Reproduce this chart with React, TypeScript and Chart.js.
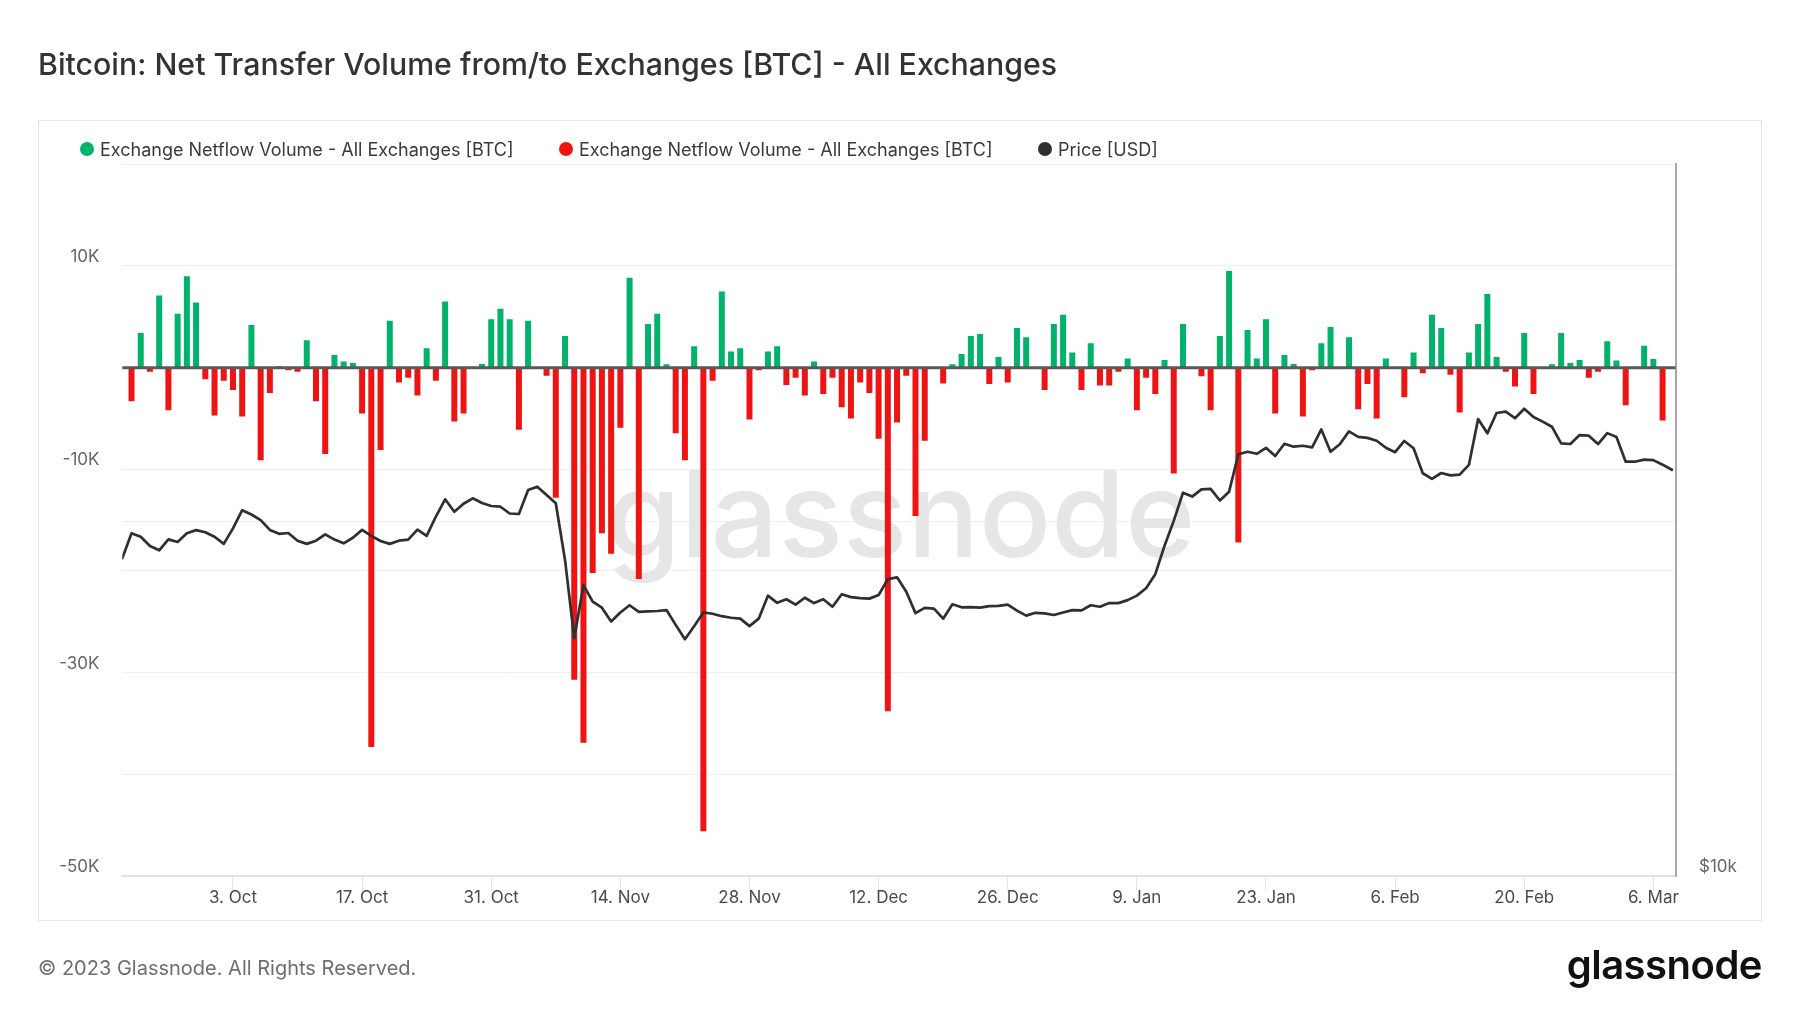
import React, { useEffect, useRef } from 'react';
import { Chart, registerables } from 'chart.js';

Chart.register(...registerables);

// one value per day, day 0 = 21 Sep 2022, day 168 = 8 Mar 2023
// exchange netflow in thousand BTC
const netflowK: (number | null)[] = [
  null, -3.3, 3.4, -0.4, 7.1, -4.2, 5.3, 9.0, 6.4, -1.15,
  -4.7, -1.3, -2.2, -4.8, 4.2, -9.1, -2.5, 0.15, -0.25, -0.4,
  2.7, -3.3, -8.5, 1.25, 0.6, 0.45, -4.5, -37.3, -8.1, 4.6,
  -1.45, -1.0, -2.75, 1.9, -1.3, 6.5, -5.3, -4.5, 0.1, 0.35,
  4.75, 5.8, 4.75, -6.1, 4.6, 0, -0.8, -12.8, 3.1, -30.7,
  -36.9, -20.2, -16.3, -18.3, -5.9, 8.85, -20.8, 4.3, 5.3, 0.33,
  -6.45, -9.1, 2.1, -45.6, -1.3, 7.5, 1.6, 1.9, -5.1, -0.25,
  1.6, 2.1, -1.7, -1.0, -2.75, 0.6, -2.6, -1.0, -3.9, -5.0,
  -1.45, -2.5, -7.0, -33.8, -5.4, -0.8, -14.6, -7.2, 0, -1.55,
  0.33, 1.35, 3.1, 3.3, -1.6, 1.05, -1.45, 3.9, 3.0, 0,
  -2.2, 4.3, 5.2, 1.5, -2.2, 2.4, -1.75, -1.75, -0.4, 0.9,
  -4.2, -1.0, -2.6, 0.75, -10.4, 4.3, 0.1, -0.85, -4.2, 3.1,
  9.5, -17.2, 3.7, 0.9, 4.75, -4.5, 1.25, 0.35, -4.8, -0.25,
  2.4, 4.0, 0, 3.0, -4.1, -1.6, -5.0, 0.9, 0, -2.9,
  1.5, -0.55, 5.2, 3.9, -0.7, -4.4, 1.5, 4.3, 7.25, 1.05,
  -0.4, -1.85, 3.4, -2.6, 0, 0.33, 3.4, 0.45, 0.75, -1.0,
  -0.4, 2.6, 0.7, -3.7, 0.1, 2.15, 0.85, -5.2, null,
];

// BTC price in thousand USD
const priceK: number[] = [
  18.6, 19.53, 19.4, 19.05, 18.89, 19.3, 19.2, 19.53, 19.65, 19.57,
  19.4, 19.13, 19.72, 20.43, 20.26, 20.04, 19.66, 19.51, 19.54, 19.25,
  19.13, 19.25, 19.49, 19.29, 19.15, 19.36, 19.66, 19.43, 19.24, 19.13,
  19.25, 19.29, 19.67, 19.43, 20.18, 20.87, 20.37, 20.69, 20.91, 20.72,
  20.6, 20.57, 20.3, 20.28, 21.25, 21.39, 21.05, 20.71, 18.54, 15.91,
  17.65, 17.09, 16.89, 16.44, 16.73, 16.97, 16.75, 16.77, 16.78, 16.81,
  16.33, 15.88, 16.29, 16.73, 16.69, 16.61, 16.56, 16.53, 16.29, 16.53,
  17.29, 17.05, 17.17, 16.99, 17.22, 17.04, 17.17, 16.92, 17.34, 17.24,
  17.21, 17.19, 17.31, 17.86, 17.92, 17.42, 16.71, 16.88, 16.86, 16.53,
  17.0, 16.9, 16.91, 16.89, 16.94, 16.95, 16.99, 16.79, 16.63, 16.72,
  16.7, 16.65, 16.73, 16.81, 16.8, 16.97, 16.92, 17.04, 17.04, 17.14,
  17.29, 17.54, 18.03, 19.06, 20.01, 21.14, 20.98, 21.28, 21.3, 20.82,
  21.18, 22.79, 22.9, 22.81, 23.08, 22.71, 23.26, 23.13, 23.17, 23.1,
  23.92, 22.9, 23.24, 23.83, 23.58, 23.53, 23.4, 23.08, 22.88, 23.39,
  23.06, 21.96, 21.72, 21.97, 21.87, 21.9, 22.32, 24.41, 23.74, 24.7,
  24.77, 24.45, 24.91, 24.51, 24.29, 24.05, 23.28, 23.25, 23.66, 23.63,
  23.25, 23.75, 23.57, 22.46, 22.46, 22.55, 22.53, 22.33, 22.11,
];

const tickDays = [12, 26, 40, 54, 68, 82, 96, 110, 124, 138, 152, 166];
const tickLabels = ['3. Oct', '17. Oct', '31. Oct', '14. Nov', '28. Nov', '12. Dec', '26. Dec', '9. Jan', '23. Jan', '6. Feb', '20. Feb', '6. Mar'];

const flowTicks = [10000, -10000, -30000, -50000];
const flowTickLabels = ['10K', '-10K', '-30K', '-50K'];
const priceTicks = [10000, 20000];
const priceTickLabels = ['$10k', ''];

const GREEN = '#00b26a';
const RED = '#ee1414';
const PRICE = '#2f2f2f';
const FONT = 'Inter, "Noto Sans", sans-serif';

const legendItems = [
  { label: 'Exchange Netflow Volume - All Exchanges [BTC]', color: GREEN, left: 80 },
  { label: 'Exchange Netflow Volume - All Exchanges [BTC]', color: RED, left: 559 },
  { label: 'Price [USD]', color: PRICE, left: 1038 },
];

// big faint logo behind the bars
const watermarkPlugin = {
  id: 'watermark',
  beforeDatasetsDraw(chart: Chart) {
    const { ctx, chartArea } = chart;
    ctx.save();
    ctx.font = '500 100px Inter';
    const w = ctx.measureText('glassnode').width;
    const size = (100 * 589) / w;
    ctx.font = `500 ${size}px Inter`;
    ctx.fillStyle = '#e6e6e6';
    ctx.textAlign = 'center';
    ctx.textBaseline = 'alphabetic';
    const cx = (chartArea.left + chartArea.right) / 2 + 2;
    ctx.fillText('glassnode', cx, chartArea.top + (chartArea.bottom - chartArea.top) * 0.552);
    ctx.restore();
  },
};

const zeroLinePlugin = {
  id: 'zeroLine',
  afterDatasetsDraw(chart: Chart) {
    const { ctx, chartArea, scales } = chart;
    const y = scales.y.getPixelForValue(0);
    ctx.save();
    ctx.strokeStyle = '#5a5a5a';
    ctx.lineWidth = 3;
    ctx.beginPath();
    ctx.moveTo(chartArea.left, y);
    ctx.lineTo(chartArea.right, y);
    ctx.stroke();
    ctx.restore();
  },
};

const NetflowChart: React.FC = () => {
  const chartRef = useRef<HTMLCanvasElement>(null);
  const chartInstance = useRef<Chart | null>(null);

  useEffect(() => {
    if (!chartRef.current) return;
    const ctx = chartRef.current.getContext('2d');
    if (!ctx) return;

    if (chartInstance.current) {
      chartInstance.current.destroy();
    }

    const greenData = netflowK.map((v, i) => ({ x: i, y: v !== null && v > 0 ? v * 1000 : null }));
    const redData = netflowK.map((v, i) => ({ x: i, y: v !== null && v < 0 ? v * 1000 : null }));
    const priceData = priceK.map((v, i) => ({ x: i, y: v * 1000 }));

    const tickFont = { family: FONT, size: 17 };

    chartInstance.current = new Chart(ctx, {
      type: 'bar',
      data: {
        datasets: [
          {
            type: 'line',
            label: 'Price [USD]',
            data: priceData,
            yAxisID: 'y1',
            borderColor: PRICE,
            borderWidth: 2.7,
            pointRadius: 0,
            tension: 0,
            borderJoinStyle: 'round',
            borderCapStyle: 'round',
            order: 0,
          } as any,
          {
            label: 'Exchange Netflow Volume - All Exchanges [BTC]',
            data: greenData,
            yAxisID: 'y',
            backgroundColor: GREEN,
            grouped: false,
            barPercentage: 0.65,
            categoryPercentage: 1,
            order: 1,
          },
          {
            label: 'Exchange Netflow Volume - All Exchanges [BTC]',
            data: redData,
            yAxisID: 'y',
            backgroundColor: RED,
            grouped: false,
            barPercentage: 0.65,
            categoryPercentage: 1,
            order: 1,
          },
        ],
      },
      options: {
        animation: false,
        responsive: true,
        maintainAspectRatio: false,
        layout: { padding: { top: 164.3, left: 0, right: 0, bottom: 0 } },
        plugins: {
          legend: { display: false },
          tooltip: { enabled: false },
        },
        scales: {
          x: {
            type: 'linear',
            min: 0,
            max: 168.4,
            offset: false,
            afterBuildTicks: (scale: any) => {
              scale.ticks = tickDays.map((v) => ({ value: v }));
            },
            afterFit: (scale: any) => {
              scale.height = 137;
            },
            ticks: {
              autoSkip: false,
              maxRotation: 0,
              padding: -3.5,
              color: '#4a4a4a',
              font: tickFont,
              callback: (_v: any, i: number) => tickLabels[i],
            },
            grid: {
              drawOnChartArea: false,
              drawTicks: true,
              tickLength: 15,
              color: '#e6e6e6',
              offset: false,
            },
            border: { display: true, color: '#e3e3e3', width: 2 },
          },
          y: {
            position: 'left',
            min: -50000,
            max: 20000,
            afterFit: (scale: any) => {
              scale.width = 122.3;
            },
            ticks: {
              stepSize: 10000,
              padding: 22.8,
              labelOffset: -9,
              color: '#666',
              font: tickFont,
              callback: (v: any) => {
                const i = flowTicks.indexOf(Number(v));
                return i >= 0 ? flowTickLabels[i] : '';
              },
            },
            grid: { color: '#eeeeee', drawTicks: false },
            border: { display: false },
          },
          y1: {
            type: 'logarithmic',
            position: 'right',
            min: 10000,
            max: 40150,
            afterBuildTicks: (scale: any) => {
              scale.ticks = priceTicks.map((v) => ({ value: v }));
            },
            afterFit: (scale: any) => {
              scale.width = 124.5;
            },
            ticks: {
              padding: 23.5,
              labelOffset: -9,
              color: '#666',
              font: tickFont,
              callback: (_v: any, i: number) => priceTickLabels[i],
            },
            grid: { color: '#eeeeee', drawTicks: false },
            border: { display: true, color: '#a8a8a8', width: 2 },
          },
        },
      },
      plugins: [watermarkPlugin, zeroLinePlugin],
    });

    return () => {
      if (chartInstance.current) {
        chartInstance.current.destroy();
        chartInstance.current = null;
      }
    };
  }, []);

  return (
    <div style={{ position: 'absolute', left: 0, top: 0, width: 1800, height: 1013 }}>
      <canvas ref={chartRef} />
    </div>
  );
};

const App: React.FC = () => {
  useEffect(() => {
    document.body.style.margin = '0';
  }, []);

  return (
    <div
      style={{
        position: 'relative',
        width: 1800,
        height: 1013,
        background: '#ffffff',
        fontFamily: FONT,
        overflow: 'hidden',
      }}
    >
      <div
        style={{
          position: 'absolute',
          left: 38,
          top: 120,
          width: 1724,
          height: 801,
          border: '1px solid #e4e4e4',
          boxSizing: 'border-box',
        }}
      />
      <NetflowChart />
      <div
        style={{
          position: 'absolute',
          left: 38,
          top: 49,
          fontSize: 30.3,
          lineHeight: '30px',
          fontWeight: 500,
          color: '#333',
          whiteSpace: 'nowrap',
        }}
      >
        Bitcoin: Net Transfer Volume from/to Exchanges [BTC] - All Exchanges
      </div>
      {legendItems.map((item, i) => (
        <div
          key={i}
          style={{
            position: 'absolute',
            left: item.left,
            top: 139,
            height: 20,
            display: 'flex',
            alignItems: 'center',
            fontSize: 18,
            color: '#3a3a3a',
            whiteSpace: 'nowrap',
          }}
        >
          <span
            style={{
              display: 'inline-block',
              width: 14,
              height: 14,
              borderRadius: '50%',
              background: item.color,
              marginRight: 6,
            }}
          />
          {item.label}
        </div>
      ))}
      <div
        style={{
          position: 'absolute',
          left: 38,
          top: 958,
          fontSize: 20,
          lineHeight: '20px',
          color: '#6e6e6e',
          whiteSpace: 'nowrap',
        }}
      >
        © 2023 Glassnode. All Rights Reserved.
      </div>
      <div
        style={{
          position: 'absolute',
          right: 38,
          top: 945,
          fontSize: 40,
          lineHeight: '40px',
          fontWeight: 600,
          letterSpacing: '-0.5px',
          color: '#111',
          whiteSpace: 'nowrap',
        }}
      >
        glassnode
      </div>
    </div>
  );
};

export default App;
